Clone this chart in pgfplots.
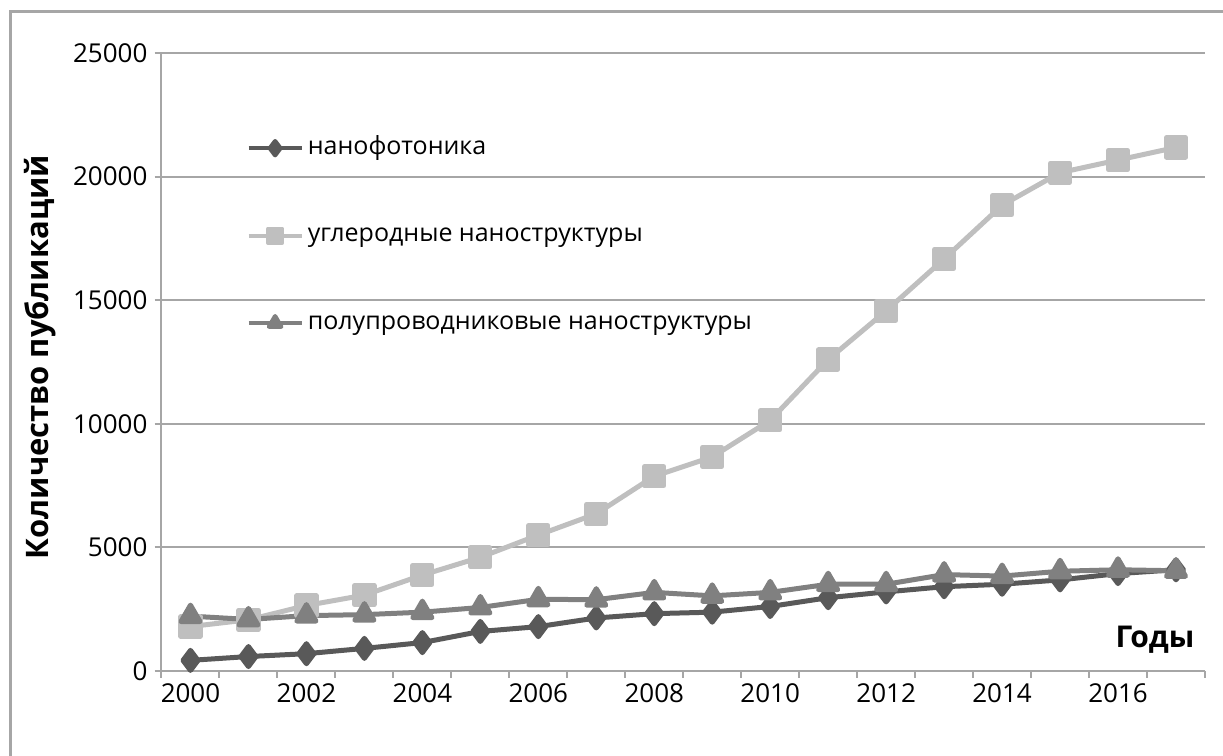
\documentclass[border=0pt]{standalone}
\usepackage{fontspec}
\setmainfont{Open Sans}
\usepackage{pgfplots}
\pgfplotsset{compat=1.18}
\definecolor{cdark}{HTML}{595959}
\definecolor{clight}{HTML}{BFBFBF}
\definecolor{cmid}{HTML}{808080}
\definecolor{cgrid}{HTML}{A6A6A6}
\begin{document}
\begin{tikzpicture}[x=0.5pt,y=0.5pt]
\useasboundingbox (0,0) rectangle (1223,756);
\draw[cgrid, line width=1.5pt] (10,0) -- (10,744) -- (1223,744);
\begin{axis}[
  at={(80.75pt,42.5pt)}, anchor=south west,
  scale only axis, width=521.75pt, height=309pt,
  xmin=1999.5, xmax=2017.5, ymin=0, ymax=25000,
  axis x line*=bottom, axis y line*=left,
  axis line style={cgrid, line width=1pt},
  xtick={1999.5,2000.5,...,2017.5}, xticklabels={},
  extra x ticks={2000,2002,2004,2006,2008,2010,2012,2014,2016},
  extra x tick labels={2000,2002,2004,2006,2008,2010,2012,2014,2016},
  extra x tick style={major tick length=0pt, xticklabel style={yshift=-3pt}},
  ytick={0,5000,10000,15000,20000,25000},
  scaled y ticks=false,
  ymajorgrids, grid style={cgrid, line width=1pt},
  yticklabel style={/pgf/number format/1000 sep={}},
  /pgf/number format/assume math mode=true,
  tick style={cgrid, line width=1pt}, major tick length=3.5pt, tick align=outside,
  ticklabel style={font=\fontsize{13}{15}\selectfont, text=black},
  ylabel={Количество публикаций},
  ylabel style={at={(axis description cs:-0.1164,0.508)}, anchor=center, font=\bfseries\fontsize{15.5}{18}\selectfont},
  xlabel={Годы},
  xlabel style={at={(axis description cs:0.952,0.05)}, anchor=center, font=\bfseries\fontsize{15}{18}\selectfont},
  legend cell align=left,
  legend style={at={(axis description cs:0.081,0.866)}, anchor=north west, draw=none, fill=none, inner sep=0pt, row sep=31.75pt,
    nodes={inner xsep=2pt, inner ysep=0pt, text height=9pt, text depth=3pt, font=\fontsize{12.5}{15}\selectfont}},
  legend image code/.code={\draw[mark repeat=2,mark phase=2,#1, line width=2.2pt, mark size=3.5pt] plot coordinates {(0pt,0pt) (13.25pt,0pt) (26.5pt,0pt)};},
  every axis plot/.append style={line join=round},
]
\addplot[cdark, line width=2.5pt, mark=diamond*, mark size=5pt] coordinates {
(2000,430) (2001,585) (2002,700) (2003,915) (2004,1150) (2005,1600) (2006,1795) (2007,2145) (2008,2320) (2009,2380) (2010,2610) (2011,2965) (2012,3200) (2013,3410) (2014,3510) (2015,3685) (2016,3940) (2017,4095)};
\addlegendentry{нанофотоника}
\addplot[clight, line width=2.5pt, mark=square*, mark size=4.8pt] coordinates {
(2000,1800) (2001,2070) (2002,2650) (2003,3070) (2004,3880) (2005,4600) (2006,5500) (2007,6360) (2008,7880) (2009,8660) (2010,10140) (2011,12600) (2012,14570) (2013,16670) (2014,18840) (2015,20160) (2016,20670) (2017,21180)};
\addlegendentry{углеродные наноструктуры}
\addplot[cmid, line width=2.5pt, mark=triangle*, mark size=5.5pt] coordinates {
(2000,2220) (2001,2085) (2002,2240) (2003,2280) (2004,2380) (2005,2570) (2006,2900) (2007,2885) (2008,3180) (2009,3040) (2010,3180) (2011,3510) (2012,3510) (2013,3900) (2014,3840) (2015,4035) (2016,4095) (2017,4055)};
\addlegendentry{полупроводниковые наноструктуры}
\end{axis}
\end{tikzpicture}
\end{document}
